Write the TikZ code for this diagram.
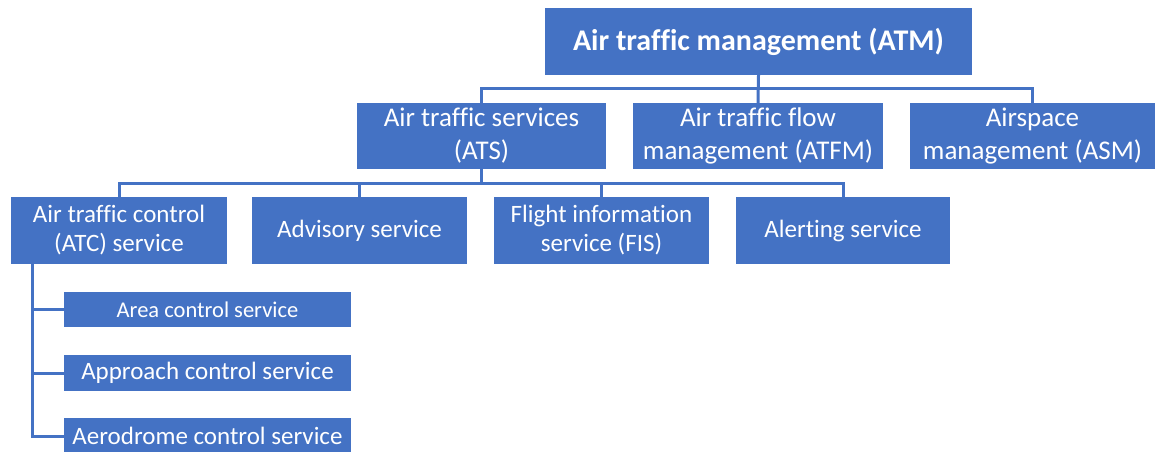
\documentclass[tikz,border=0pt]{standalone}
\usepackage{fontspec}
\setmainfont[Ligatures=CommonOff]{Carlito}
\usetikzlibrary{positioning}
\definecolor{atmblue}{HTML}{4472C4}

\begin{document}
\begin{tikzpicture}
[every node/.style={inner sep=0pt, fill=atmblue, text=white, align=center},
 topbox/.style={minimum width=427pt, minimum height=67pt, font=\fontsize{30}{35}\selectfont\bfseries},
 mainbox/.style={minimum height=66pt, font=\fontsize{27}{33}\selectfont},
 servbox/.style={minimum height=67pt, font=\fontsize{25}{29}\selectfont},
 subbox/.style={minimum width=287pt, minimum height=36pt, font=\fontsize{25}{29}\selectfont},
 link/.style={line width=3pt, color=atmblue}]
\useasboundingbox (0pt, 0pt) rectangle (1156pt, -451pt);
% management level
\node (atm) [topbox] at (758.5pt, -41.5pt) {Air traffic management (ATM)};
\node (ats) [mainbox, minimum width=249pt] at (481.5pt, -136pt) {Air traffic services\\(ATS)};
\node (atfm) [mainbox, minimum width=250pt] at (758pt, -136pt) {Air traffic flow\\management (ATFM)};
\node (asm) [mainbox, minimum width=245pt] at (1032.5pt, -136pt) {Airspace\\management (ASM)};
% services
\node (atc) [servbox, minimum width=216pt] at (119pt, -230.5pt) {Air traffic control\\(ATC) service};
\node (adv) [servbox, minimum width=215pt] at (359.5pt, -230.5pt) {Advisory service};
\node (fis) [servbox, minimum width=215pt] at (601.5pt, -230.5pt) {Flight information\\service (FIS)};
\node (alert) [servbox, minimum width=214pt] at (843pt, -230.5pt) {Alerting service};
% control services
\node (area) [subbox, minimum height=35pt, font=\fontsize{22.5}{26}\selectfont] at (207.5pt, -309.5pt) {Area control service};
\node (appr) [subbox] at (207.5pt, -373pt) {Approach control service};
\node (aero) [subbox] at (207.5pt, -436pt) {Aerodrome control service};
\coordinate (spine) at (32pt, -264pt);
\draw [link] (atm.south) -- ++(0pt, -13pt) -| (ats.north);
\draw [link] (atm.south) -- (atfm.north);
\draw [link] (atm.south) -- ++(0pt, -13pt) -| (asm.north);
\draw [link] (ats.south) -- ++(0pt, -14pt) -| (atc.north);
\draw [link] (ats.south) -- ++(0pt, -14pt) -| (adv.north);
\draw [link] (ats.south) -- ++(0pt, -14pt) -| (fis.north);
\draw [link] (ats.south) -- ++(0pt, -14pt) -| (alert.north);
\draw [link] (spine) |- (area.west);
\draw [link] (spine) |- (appr.west);
\draw [link] (spine) |- (aero.west);
\end{tikzpicture}
\end{document}
